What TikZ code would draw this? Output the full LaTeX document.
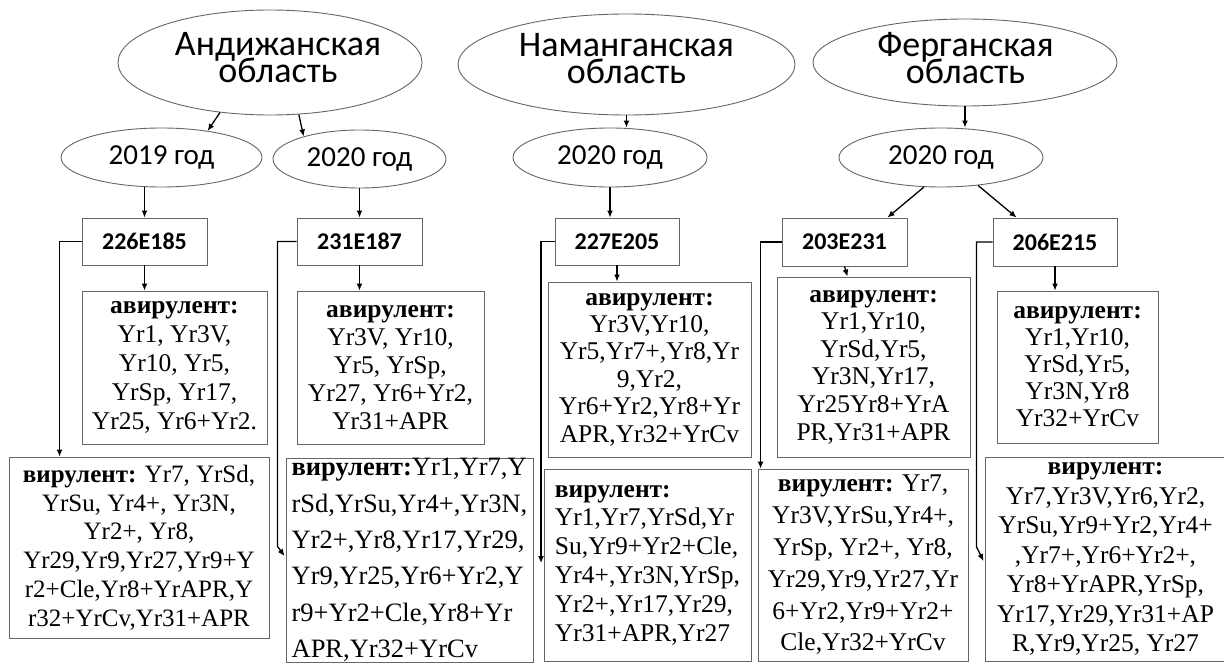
\documentclass[tikz,border=0pt]{standalone}
\usepackage{fontspec}
\setmainfont{Liberation Serif}
\newfontfamily\calfont{Carlito}
\usetikzlibrary{shapes.geometric,arrows.meta,calc}
% keep the given baseline distances even when lines come close
\setlength{\lineskiplimit}{-100pt}

\begin{document}
\begin{tikzpicture}[x=1pt,y=-1pt,
  region/.style={ellipse,draw=black!60,line width=0.9pt,inner sep=0pt},
  regtext/.style={align=center,inner sep=0pt,
    font=\calfont\fontsize{36}{27}\selectfont},
  yearnode/.style={ellipse,draw=black!60,line width=0.9pt,inner sep=0pt,
    font=\calfont\fontsize{29}{30}\selectfont},
  idbox/.style={draw=black!60,line width=0.9pt,inner sep=0pt,
    font=\calfont\bfseries\fontsize{24}{26}\selectfont},
  listbox/.style={draw=black!60,line width=0.9pt,inner sep=0pt,align=center,
    font=\fontsize{25.5}{#1}\selectfont},
  arr/.style={-{Latex[length=7pt,width=6pt]},line width=1.3pt}
]
\useasboundingbox (0,0) rectangle (1224,663);
\fill[white] (0,0) rectangle (1224,663);
\clip (0,0) rectangle (1224,663);

% regions
\node[region,minimum width=304,minimum height=105] (and) at (270,62.5) {};
\node[regtext] (andt) at (278,58) {Андижанская\\область};
\node[region,minimum width=337,minimum height=101] (nam) at (626.5,64.5) {};
\node[regtext] (namt) at (626.5,59) {Наманганская\\область};
\node[region,minimum width=304,minimum height=87] (fer) at (965,62.5) {};
\node[regtext] (fert) at (965.5,58) {Ферганская\\область};

% years
\node[yearnode,minimum width=201,minimum height=59] (y19) at (161.5,157.5) {2019 год};
\node[yearnode,minimum width=173,minimum height=58] (y20a) at (359.5,159) {2020 год};
\node[yearnode,minimum width=194,minimum height=59] (y20n) at (610,157.5) {2020 год};
\node[yearnode,minimum width=204,minimum height=59] (y20f) at (941,157.5) {2020 год};

% isolates
\node[idbox,minimum width=125,minimum height=47] (id1) at (144.5,241.5) {226E185};
\node[idbox,minimum width=125,minimum height=47] (id2) at (359.5,241.5) {231E187};
\node[idbox,minimum width=124,minimum height=47] (id3) at (617,241.5) {227E205};
\node[idbox,minimum width=125,minimum height=48] (id4) at (844.5,242) {203E231};
\node[idbox,minimum width=124,minimum height=48] (id5) at (1055,242) {206E215};

% avirulent lists
\node[listbox=29,minimum width=185,minimum height=153] (a1) at (174.5,367.5)
  {\textbf{авирулент:}\\Yr1, Yr3V,\\Yr10, Yr5,\\YrSp, Yr17,\\Yr25, Yr6+Yr2.};
\node[listbox=28,minimum width=187,minimum height=153] (a2) at (390.5,367.5)
  {\textbf{авирулент:}\\Yr3V, Yr10,\\Yr5, YrSp,\\Yr27, Yr6+Yr2,\\Yr31+APR};
\node[listbox=27.4,minimum width=203,minimum height=175] (a3) at (649.5,369.5)
  {\textbf{авирулент:}\\Yr3V,Yr10,\\Yr5,Yr7+,Yr8,Yr\\9,Yr2,\\Yr6+Yr2,Yr8+Yr\\APR,Yr32+YrCv};
\node[listbox=27.6,minimum width=193,minimum height=180] (a4) at (873.5,367)
  {\textbf{авирулент:}\\Yr1,Yr10,\\YrSd,Yr5,\\Yr3N,Yr17,\\Yr25Yr8+YrA\\PR,Yr31+APR};
\node[listbox=27,minimum width=161,minimum height=152] (a5) at (1077.5,367)
  {\textbf{авирулент:}\\Yr1,Yr10,\\YrSd,Yr5,\\Yr3N,Yr8\\Yr32+YrCv};

% virulent lists
\node[listbox=28.7,minimum width=260,minimum height=181,
  font=\fontsize{25}{28.7}\selectfont] (v1) at (139,547.5)
  {\textbf{вирулент:} Yr7, YrSd,\\YrSu, Yr4+, Yr3N,\\Yr2+, Yr8,\\Yr29,Yr9,Yr27,Yr9+Y\\r2+Cle,Yr8+YrAPR,Y\\r32+YrCv,Yr31+APR};
\node[listbox=36.4,align=left,minimum width=247,minimum height=204,
  font=\fontsize{26.5}{36.4}\selectfont] (v2) at (409.5,560)
  {\textbf{вирулент:}Yr1,Yr7,Y\\rSd,YrSu,Yr4+,Yr3N,\\Yr2+,Yr8,Yr17,Yr29,\\Yr9,Yr25,Yr6+Yr2,Y\\r9+Yr2+Cle,Yr8+Yr\\APR,Yr32+YrCv};
\node[listbox=28.8,align=left,minimum width=207,minimum height=192] (v3) at (647.5,565)
  {\textbf{вирулент:}\\Yr1,Yr7,YrSd,Yr\\Su,Yr9+Yr2+Cle,\\Yr4+,Yr3N,YrSp,\\Yr2+,Yr17,Yr29,\\Yr31+APR,Yr27};
\node[listbox=31.8,minimum width=210,minimum height=192] (v4) at (863,565)
  {\textbf{вирулент:} Yr7,\\Yr3V,YrSu,Yr4+,\\YrSp, Yr2+, Yr8,\\Yr29,Yr9,Yr27,Yr\\6+Yr2,Yr9+Yr2+\\Cle,Yr32+YrCv};
\node[listbox=29.5,minimum width=241,minimum height=204] (v5) at (1105.5,559)
  {\textbf{вирулент:}\\Yr7,Yr3V,Yr6,Yr2,\\YrSu,Yr9+Yr2,Yr4+\\,Yr7+,Yr6+Yr2+,\\Yr8+YrAPR,YrSp,\\Yr17,Yr29,Yr31+AP\\R,Yr9,Yr25, Yr27};

% region -> year
\draw[arr] (and.225) -- (y19.30);
\draw[arr] (and.-61.5) -- (y20a.158);
\draw[arr] (nam.south) -- (nam.south |- y20n.north);
\draw[arr] (fer.south) -- (fer.south |- y20f.north);

% year -> isolate
\draw[arr] (y19.south -| id1.north) -- (id1.north);
\draw[arr] (y20a.south) -- (id2.north);
\draw[arr] (y20n.south) -- (y20n.south |- id3.north);
\draw[arr] (y20f.-120) -- ($(id4.north east)+(-20,0)$);
\draw[arr] (y20f.-37.5) -- ($(id5.north west)+(24,0)$);

% isolate -> avirulent
\draw[arr] (id1.south) -- (id1.south |- a1.north);
\draw[arr] (id2.south) -- (id2.south |- a2.north);
\draw[arr] (id3.south) -- (id3.south |- a3.north);
\draw[arr] (id4.south) -- ($(id4.south |- a4.north)+(3,0)$);
\draw[arr] (id5.south) -- (id5.south |- a5.north);

% isolate -> virulent
\coordinate (e3) at (541,563);
\draw[arr] (id1.west) -| ($(v1.north west)+(51,0)$);
\draw[arr] (id2.west) -- ++(-19,0) -- ++(0,305) -- ($(v2.west)+(-1,-4)$);
\draw[arr] (id3.west) -| (e3);
\draw[arr] (id4.west) -| ($(v4.north west)+(3,0)$);
\draw[arr] (id5.west) -- ++(-16,0) -- ++(0,305) -- ($(v5.west)+(-1,2)$);
\end{tikzpicture}
\end{document}
